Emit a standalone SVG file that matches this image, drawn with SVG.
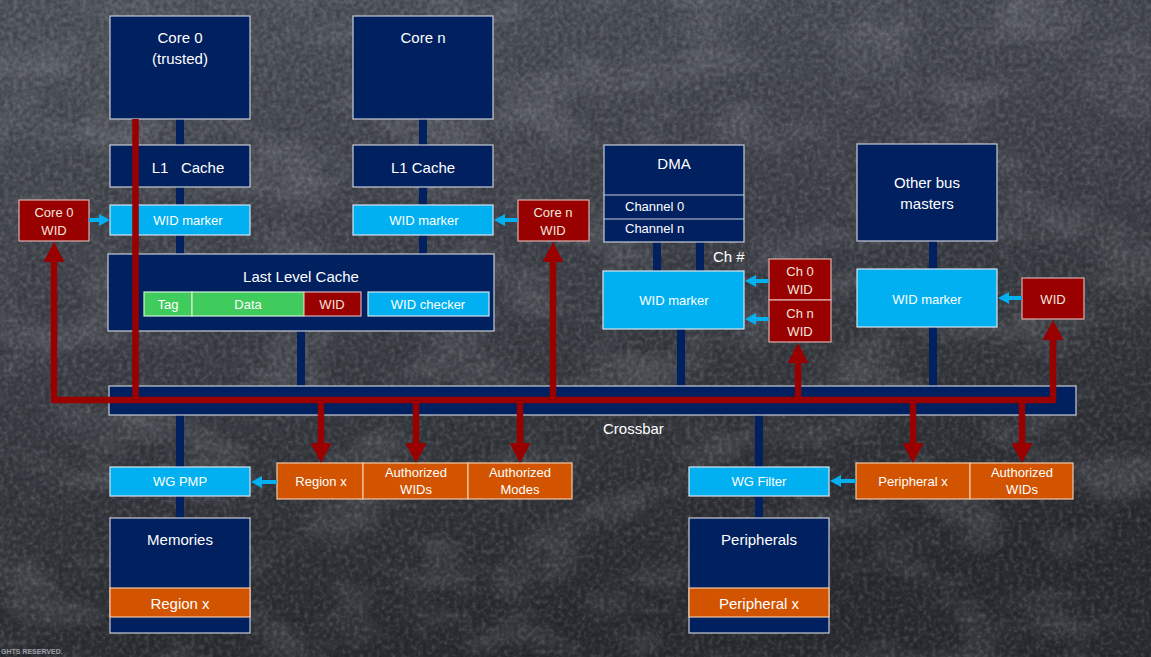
<svg xmlns="http://www.w3.org/2000/svg" width="1151" height="657" viewBox="0 0 1151 657">
<style>
text{font-family:"Liberation Sans",Arial,sans-serif;fill:#fff;text-anchor:middle}
.big{font-size:15px}
.sm{font-size:13px}
.navy{fill:#002060;stroke:#c9ccd6;stroke-width:1.2}
.lb{fill:#00b0f0;stroke:#d6e4f0;stroke-width:1.2}
.red{fill:#990000;stroke:#d9b0b0;stroke-width:1.2}
.org{fill:#d25400;stroke:#f0c8a8;stroke-width:1.2}
.grn{fill:#40cc5c;stroke:#d0f0d0;stroke-width:1.2}
.bus{stroke:#002060;stroke-width:8;fill:none}
.rl{stroke:#990000;stroke-width:6.5;fill:none}
.bl{stroke:#00b0f0;stroke-width:4;fill:none}
.ctext{fill:#f3e6dc}
</style>
<defs>
<linearGradient id="bg" x1="0" y1="0" x2="0.3" y2="1">
<stop offset="0" stop-color="#50545b"/>
<stop offset="0.5" stop-color="#3e4148"/>
<stop offset="1" stop-color="#2a2c31"/>
</linearGradient>
<filter id="lite" x="0" y="0" width="100%" height="100%">
<feTurbulence type="fractalNoise" baseFrequency="0.22" numOctaves="2" seed="4"/>
<feColorMatrix type="matrix" values="0 0 0 0 1  0 0 0 0 1  0 0 0 0 1  1.6 0 0 0 -0.8"/>
</filter>
<filter id="dark" x="0" y="0" width="100%" height="100%">
<feTurbulence type="fractalNoise" baseFrequency="0.22" numOctaves="2" seed="4"/>
<feColorMatrix type="matrix" values="0 0 0 0 0  0 0 0 0 0  0 0 0 0 0  -1.6 0 0 0 0.8"/>
</filter>
<filter id="blot" x="0" y="0" width="100%" height="100%">
<feTurbulence type="fractalNoise" baseFrequency="0.012 0.02" numOctaves="3" seed="9"/>
<feColorMatrix type="matrix" values="0 0 0 0 0.75  0 0 0 0 0.78  0 0 0 0 0.82  1.5 0 0 0 -0.7"/>
</filter>
<marker id="ra" viewBox="0 0 20 21" refX="1" refY="10.5" markerUnits="userSpaceOnUse" markerWidth="20" markerHeight="21" orient="auto">
<path d="M0,0 L20,10.5 L0,21 Z" fill="#990000"/>
</marker>
<marker id="ba" viewBox="0 0 11 12" refX="1" refY="6" markerUnits="userSpaceOnUse" markerWidth="11" markerHeight="12" orient="auto">
<path d="M0,0 L11,6 L0,12 Z" fill="#00b0f0"/>
</marker>
</defs>
<rect width="1151" height="657" fill="url(#bg)"/>
<rect width="1151" height="657" filter="url(#blot)" opacity="0.25"/>
<rect width="1151" height="657" filter="url(#lite)" opacity="0.22"/>
<rect width="1151" height="657" filter="url(#dark)" opacity="0.35"/>
<text x="1" y="654" style="font-size:7px;font-weight:bold;fill:#9a9ea6;text-anchor:start">GHTS RESERVED.</text>

<g id="buses">
<path class="bus" d="M180,119 V254 M423,119 V254 M301,331 V386 M657,242 V271 M700,242 V271 M681,329 V386 M933,241 V386 M180,415 V518 M759,415 V518"/>
</g>

<g id="crossbar">
<rect class="navy" x="109" y="386" width="967" height="29"/>
<text class="big" x="603" y="434" style="text-anchor:start">Crossbar</text>
</g>

<g id="core0">
<rect class="navy" x="110" y="16" width="140" height="103"/>
<text class="big" x="180" y="43">Core 0</text>
<text class="big" x="180" y="64">(trusted)</text>
</g>
<g id="coren">
<rect class="navy" x="353" y="16" width="140" height="103"/>
<text class="big" x="423" y="43">Core n</text>
</g>
<g id="l1-0">
<rect class="navy" x="110" y="145" width="140" height="42"/>
<text class="big" x="188" y="173" xml:space="preserve">L1   Cache</text>
</g>
<g id="l1-n">
<rect class="navy" x="353" y="145" width="140" height="42"/>
<text class="big" x="423" y="173">L1 Cache</text>
</g>
<g id="widm-0">
<rect class="lb" x="110" y="205" width="140" height="30"/>
<text class="sm" x="188" y="225">WID marker</text>
</g>
<g id="widm-n">
<rect class="lb" x="353" y="205" width="140" height="30"/>
<text class="sm" x="424" y="225">WID marker</text>
</g>
<g id="core0wid">
<rect class="red" x="19" y="200" width="70" height="41"/>
<text class="sm ctext" x="54" y="217">Core 0</text>
<text class="sm ctext" x="54" y="235">WID</text>
</g>
<g id="corenwid">
<rect class="red" x="518" y="200" width="71" height="41"/>
<text class="sm ctext" x="553" y="217">Core n</text>
<text class="sm ctext" x="553" y="235">WID</text>
</g>
<g id="llc">
<rect class="navy" x="108" y="254" width="386" height="77"/>
<text class="big" x="301" y="282">Last Level Cache</text>
<rect class="grn" x="144" y="292" width="48" height="24"/>
<text class="sm" x="168" y="309">Tag</text>
<rect class="grn" x="192" y="292" width="112" height="24"/>
<text class="sm" x="248" y="309">Data</text>
<rect class="red" x="304" y="292" width="57" height="24"/>
<text class="sm ctext" x="332" y="309">WID</text>
<rect class="lb" x="368" y="292" width="121" height="24"/>
<text class="sm" x="428" y="309">WID checker</text>
</g>

<g id="dma">
<rect class="navy" x="604" y="145" width="140" height="97"/>
<text class="big" x="674" y="169">DMA</text>
<line x1="604" y1="195" x2="744" y2="195" stroke="#c9ccd6" stroke-width="1.2"/>
<line x1="604" y1="219" x2="744" y2="219" stroke="#c9ccd6" stroke-width="1.2"/>
<text class="sm" x="625" y="211" style="text-anchor:start">Channel 0</text>
<text class="sm" x="625" y="233" style="text-anchor:start">Channel n</text>
</g>
<text class="big" x="713" y="262" style="text-anchor:start">Ch #</text>
<g id="widm-dma">
<rect class="lb" x="603" y="271" width="141" height="58"/>
<text class="sm" x="674" y="305">WID marker</text>
</g>
<g id="ch0wid">
<rect class="red" x="769" y="259" width="62" height="41"/>
<text class="sm ctext" x="800" y="276">Ch 0</text>
<text class="sm ctext" x="800" y="294">WID</text>
</g>
<g id="chnwid">
<rect class="red" x="769" y="300" width="62" height="42"/>
<text class="sm ctext" x="800" y="318">Ch n</text>
<text class="sm ctext" x="800" y="336">WID</text>
</g>
<g id="other">
<rect class="navy" x="857" y="144" width="140" height="97"/>
<text class="big" x="927" y="188">Other bus</text>
<text class="big" x="927" y="209">masters</text>
</g>
<g id="widm-other">
<rect class="lb" x="857" y="269" width="140" height="58"/>
<text class="sm" x="927" y="304">WID marker</text>
</g>
<g id="otherwid">
<rect class="red" x="1022" y="278" width="62" height="41"/>
<text class="sm ctext" x="1053" y="304">WID</text>
</g>

<g id="wgpmp">
<rect class="lb" x="110" y="467" width="140" height="29"/>
<text class="sm" x="180" y="486">WG PMP</text>
</g>
<g id="pmpentry">
<rect class="org" x="277" y="463" width="86" height="36"/>
<text class="sm" x="321" y="486">Region x</text>
<rect class="org" x="363" y="463" width="105" height="36"/>
<text class="sm" x="416" y="477">Authorized</text>
<text class="sm" x="416" y="494">WIDs</text>
<rect class="org" x="468" y="463" width="104" height="36"/>
<text class="sm" x="520" y="477">Authorized</text>
<text class="sm" x="520" y="494">Modes</text>
</g>
<g id="memories">
<rect class="navy" x="110" y="518" width="140" height="115"/>
<text class="big" x="180" y="545">Memories</text>
<rect class="org" x="110" y="588" width="140" height="29"/>
<text class="big" x="180" y="609">Region x</text>
</g>
<g id="wgfilter">
<rect class="lb" x="689" y="467" width="140" height="29"/>
<text class="sm" x="759" y="486">WG Filter</text>
</g>
<g id="filterentry">
<rect class="org" x="856" y="463" width="114" height="36"/>
<text class="sm" x="913" y="486">Peripheral x</text>
<rect class="org" x="970" y="463" width="103" height="36"/>
<text class="sm" x="1022" y="477">Authorized</text>
<text class="sm" x="1022" y="494">WIDs</text>
</g>
<g id="peripherals">
<rect class="navy" x="689" y="518" width="140" height="115"/>
<text class="big" x="759" y="545">Peripherals</text>
<rect class="org" x="689" y="588" width="140" height="29"/>
<text class="big" x="759" y="609">Peripheral x</text>
</g>

<g id="connectors">
<path class="rl" d="M135.5,119 V400"/>
<path class="rl" d="M54,400 H1053"/>
<path class="rl" d="M54,403 V261" marker-end="url(#ra)"/>
<path class="rl" d="M553,400 V261" marker-end="url(#ra)"/>
<path class="rl" d="M798,400 V362" marker-end="url(#ra)"/>
<path class="rl" d="M1053,403 V339" marker-end="url(#ra)"/>
<path class="rl" d="M321,400 V444" marker-end="url(#ra)"/>
<path class="rl" d="M416,400 V444" marker-end="url(#ra)"/>
<path class="rl" d="M520,400 V444" marker-end="url(#ra)"/>
<path class="rl" d="M913,400 V444" marker-end="url(#ra)"/>
<path class="rl" d="M1022,400 V444" marker-end="url(#ra)"/>
<path class="bl" d="M89,220 H100" marker-end="url(#ba)"/>
<path class="bl" d="M518,220 H504" marker-end="url(#ba)"/>
<path class="bl" d="M769,281 H755" marker-end="url(#ba)"/>
<path class="bl" d="M769,319 H755" marker-end="url(#ba)"/>
<path class="bl" d="M1022,298 H1008" marker-end="url(#ba)"/>
<path class="bl" d="M277,482 H261" marker-end="url(#ba)"/>
<path class="bl" d="M856,481 H840" marker-end="url(#ba)"/>
</g>
</svg>
